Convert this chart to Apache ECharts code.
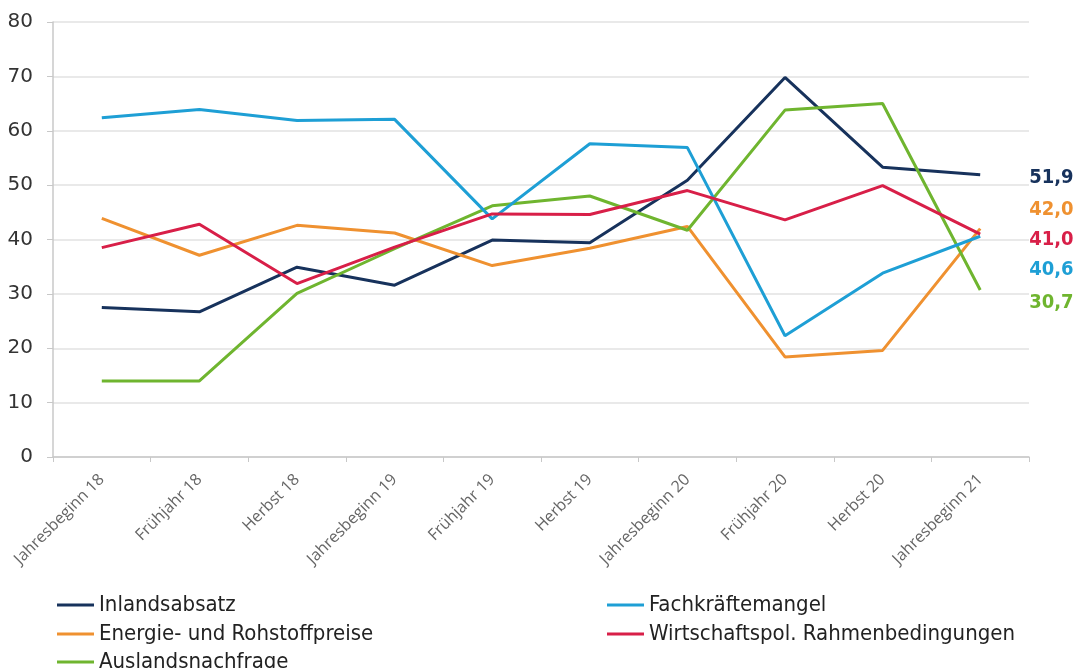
<!DOCTYPE html>
<html lang="de">
<head>
<meta charset="UTF-8">
<title>Chart</title>
<script src="https://cdn.jsdelivr.net/npm/echarts@6/dist/echarts.min.js"></script>
<style>
  html, body { margin: 0; padding: 0; background: #fff; }
  #chart { width: 1074px; height: 668px; }
</style>
</head>
<body>
<div id="chart"></div>
<script>
// Kategorien und Werte
var categories = ['Jahresbeginn 18', 'Frühjahr 18', 'Herbst 18', 'Jahresbeginn 19', 'Frühjahr 19',
                  'Herbst 19', 'Jahresbeginn 20', 'Frühjahr 20', 'Herbst 20', 'Jahresbeginn 21'];
var inlandsabsatz     = [27.5, 26.7, 34.9, 31.6, 39.9, 39.4, 50.9, 69.8, 53.3, 51.9];
var energie           = [43.9, 37.1, 42.6, 41.2, 35.2, 38.4, 42.4, 18.4, 19.6, 42.0];
var auslandsnachfrage = [14.0, 14.0, 30.1, 38.3, 46.2, 48.0, 41.7, 63.8, 65.0, 30.7];
var fachkraefte       = [62.4, 63.9, 61.9, 62.1, 43.8, 57.6, 56.9, 22.3, 33.8, 40.6];
var wirtschaftspol    = [38.5, 42.8, 31.9, 38.6, 44.7, 44.6, 49.0, 43.6, 49.9, 41.0];

var names = ['Inlandsabsatz', 'Energie- und Rohstoffpreise', 'Auslandsnachfrage',
             'Fachkräftemangel', 'Wirtschaftspol. Rahmenbedingungen'];
var colors = ['#17325c', '#ef9130', '#6fb52f', '#1e9fd5', '#d81f48'];
var labelShift = [3, -19, 13, 34, 6];   // Endbeschriftungen auseinanderziehen
var values = [inlandsabsatz, energie, auslandsnachfrage, fachkraefte, wirtschaftspol];

// Legendenposition: [links, oben] je Eintrag (zwei Spalten, drei Zeilen)
var legendPos = [[52, 589], [52, 618], [52, 646], [602, 589], [602, 618]];

var condensed = "'DejaVu Sans Condensed', 'Liberation Sans Narrow', sans-serif";

var series = names.map(function (n, i) {
    return {
        name: n,
        type: 'line',
        data: values[i],
        symbol: 'none',
        lineStyle: { width: 3, color: colors[i] },
        itemStyle: { color: colors[i] },
        endLabel: {
            show: true,
            distance: 49,
            offset: [0, labelShift[i]],
            formatter: function (p) { return p.value.toFixed(1).replace('.', ','); },
            color: colors[i],
            fontFamily: condensed,
            fontWeight: 'bold',
            fontSize: 20
        }
    };
});

var legends = names.map(function (n, i) {
    return {
        left: legendPos[i][0], top: legendPos[i][1],
        itemWidth: 37, itemHeight: 3, icon: 'rect',
        data: [n],
        textStyle: { fontFamily: condensed, fontSize: 22, color: '#222', lineHeight: 16 }
    };
});

var chart = echarts.init(document.getElementById('chart'));
chart.setOption({
    animation: false,
    color: colors,
    grid: { left: 53, right: 45, top: 22, bottom: 211 },
    legend: legends,
    xAxis: {
        type: 'category',
        data: categories,
        boundaryGap: true,
        axisLine: { lineStyle: { color: '#c8c8c8', width: 1.5 } },
        axisTick: { show: true, length: 5, lineStyle: { color: '#c8c8c8' } },
        axisLabel: {
            rotate: 45, interval: 0, margin: 20,
            fontFamily: "'Open Sans', sans-serif", fontSize: 16, color: '#666'
        }
    },
    yAxis: {
        type: 'value',
        min: 0, max: 80, interval: 10,
        axisLine: { show: true, lineStyle: { color: '#c8c8c8', width: 1.5 } },
        axisTick: { show: true, length: 6, lineStyle: { color: '#c8c8c8' } },
        axisLabel: { fontFamily: "'DejaVu Sans', sans-serif", fontSize: 20, color: '#333', margin: 20 },
        splitLine: { lineStyle: { color: '#e2e2e2', width: 1.5 } }
    },
    series: series
});
</script>
</body>
</html>
